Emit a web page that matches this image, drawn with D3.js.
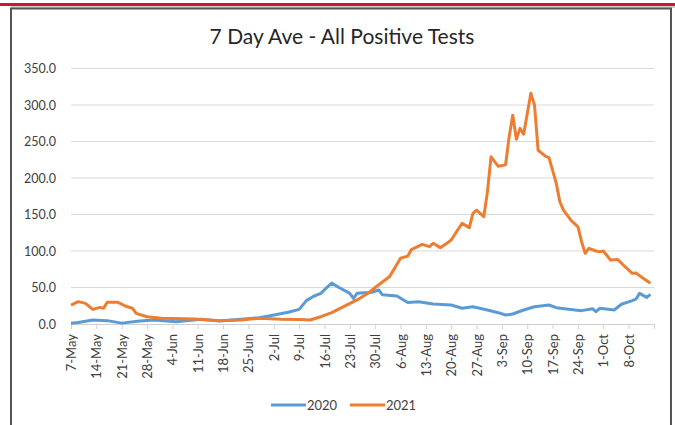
<!doctype html>
<html>
  <head>
    <meta charset="utf-8">
    <script src="https://cdn.jsdelivr.net/npm/d3@7"></script>
    <style>
      body { margin: 0; background: white; }
      svg text { font-family: Lato, "Open Sans", sans-serif; }
      .tick text { fill: #404040; }
    </style>
  </head>
  <body>
    <svg class="chart"></svg>

    <script>
      // values, day = days since 7 May
      const startDate = new Date(2021, 4, 7)
      const endDate = new Date(2021, 9, 15)

      const day2020 = [0, 2, 6, 10, 14, 19, 23, 29, 36, 41, 47, 52, 55, 60, 63, 65, 67, 69, 70, 72,
                       74, 77, 78, 79, 82, 83, 85, 86, 90, 93, 96, 100, 105, 108, 111, 115, 118, 120,
                       122, 125, 128, 132, 134, 138, 141, 144, 145, 146, 150, 152, 155, 156, 157, 159, 160]
      const val2020 = [1, 2, 5.5, 4.6, 1.2, 4, 5.5, 3.2, 6.5, 4, 6.5, 8.7, 11.4, 16, 20, 32, 38, 42, 47, 56,
                       50, 42, 35, 42, 43, 43.5, 46.6, 40, 38.4, 29.5, 30.6, 27.4, 26, 21.5, 23.7, 19.2, 15.5, 12.3,
                       13.7, 19.2, 23.7, 26, 22.4, 20, 18.3, 21, 17, 21.5, 19.2, 27, 32, 34, 42, 36.5, 40.6]

      const day2021 = [0, 2, 4, 6, 8, 9, 10, 13, 15, 17, 18, 21, 25, 34, 41, 47, 52, 58, 63, 66,
                       69, 72, 75, 79, 82, 84, 88, 91, 93, 94, 97, 99, 100, 102, 104, 105, 108, 110,
                       111, 112, 114, 115, 116, 118, 120, 121, 122, 123, 124, 125, 127, 128, 129, 131,
                       132, 134, 135, 136, 138, 140, 141, 142, 143, 145, 146, 147, 149, 151, 153, 155,
                       156, 158, 160]
      const val2021 = [26, 30.6, 28.3, 20, 22.8, 21.5, 29.7, 29.7, 24.7, 21.5, 14.6, 10, 7.8, 6.8, 4.6, 5.5, 7.8, 6.4, 6, 5.5,
                       10, 15.5, 23, 33, 42, 50, 65, 90, 93, 102, 109, 106, 110.5, 104.6, 111.4, 115, 138, 132,
                       151.6, 156, 147, 181, 229, 216, 218, 256.6, 286, 253, 268, 260, 316, 300, 238, 230,
                       228, 193, 167.5, 156, 142.5, 133, 112.7, 96.8, 103.7, 100, 99, 100, 87.7, 88.3, 78.5, 69.5,
                       70, 62.6, 55.7]

      const series = [
        { name: "2020", color: "#5b9bd5", days: day2020, values: val2020 },
        { name: "2021", color: "#ed7d31", days: day2021, values: val2021 }
      ]
      const yTicks = [0, 50, 100, 150, 200, 250, 300, 350]

      const W = 675, H = 425
      const plot = { left: 71, right: 654, top: 68.5, bottom: 324 }

      const svg = d3.select(".chart")
                    .attr("width", W)
                    .attr("height", H)

      // sheet bits around the chart
      svg.append("rect").attr("x", 0).attr("y", 3).attr("width", W).attr("height", 3).attr("fill", "#c8173a")
      svg.append("rect").attr("x", 11).attr("y", 6).attr("width", W - 11).attr("height", 2).attr("fill", "#d0d0d0")
      svg.append("rect")
          .attr("x", 11).attr("y", 8.5)
          .attr("width", 660).attr("height", 440)
          .attr("fill", "white")
          .attr("stroke", "#555")
          .attr("stroke-width", 2)

      const xScale = d3.scaleTime()
                       .domain([startDate, endDate])
                       .range([plot.left, plot.right])
      const yScale = d3.scaleLinear()
                       .domain([0, 350])
                       .range([plot.bottom, plot.top])

      const fmt = d3.timeFormat("%-d-%b")
      const xTickValues = d3.timeDay.range(startDate, d3.timeDay.offset(endDate, 1), 7)

      // gridlines
      svg.append("g")
        .selectAll("line")
        .data(yTicks.slice(1))
        .enter().append("line")
          .attr("x1", plot.left).attr("x2", plot.right)
          .attr("y1", d => yScale(d)).attr("y2", d => yScale(d))
          .attr("stroke", "#d9d9d9")

      const yAxis = svg.append("g")
          .attr("transform", "translate(" + plot.left + ",0)")
          .call(d3.axisLeft(yScale).tickValues(yTicks).tickFormat(d3.format(".1f")).tickSize(0).tickPadding(15))
      yAxis.select(".domain").remove()
      yAxis.selectAll("text").style("font-size", "12.5px")

      const xAxis = svg.append("g")
          .attr("transform", "translate(0," + plot.bottom + ")")
          .call(d3.axisBottom(xScale)
                  .tickValues(xTickValues)
                  .tickFormat(d => d < endDate ? fmt(d) : "")
                  .tickSizeOuter(0)
                  .tickSize(5))
      xAxis.select(".domain").attr("stroke", "#d0d0d0")
      xAxis.selectAll(".tick line").attr("stroke", "#d0d0d0")
      xAxis.selectAll("text")
          .style("font-size", "13px")
          .attr("transform", "rotate(-90)")
          .attr("text-anchor", "end")
          .attr("x", -10)
          .attr("y", 0)
          .attr("dy", "0.35em")

      const line = d3.line()
                     .x(d => xScale(d3.timeDay.offset(startDate, d.day)))
                     .y(d => yScale(d.value))

      series.forEach(s => {
        const pts = s.days.map((d, i) => ({ day: d, value: s.values[i] }))
        svg.append("path")
            .datum(pts)
            .attr("fill", "none")
            .attr("stroke", s.color)
            .attr("stroke-width", 3)
            .attr("stroke-linejoin", "round")
            .attr("d", line)
      })

      // title, sized to the width it has in the picture
      const title = svg.append("text")
          .attr("x", 342)
          .attr("y", 44)
          .attr("text-anchor", "middle")
          .attr("fill", "#262626")
          .style("font-size", "22px")
          .text("7 Day Ave - All Positive Tests")
      const tw = title.node().getComputedTextLength()
      title.style("font-size", (22 * 265 / tw) + "px")

      // legend
      const legend = svg.append("g").attr("transform", "translate(271,405)")
      series.forEach((s, i) => {
        const g = legend.append("g").attr("transform", "translate(" + (i * 79) + ",0)")
        g.append("line").attr("x1", 0).attr("x2", 35).attr("stroke", s.color).attr("stroke-width", 3)
        g.append("text")
          .attr("x", 36)
          .attr("dy", "0.35em")
          .attr("fill", "#404040")
          .style("font-size", "13px")
          .text(s.name)
      })
    </script>
  </body>
</html>
